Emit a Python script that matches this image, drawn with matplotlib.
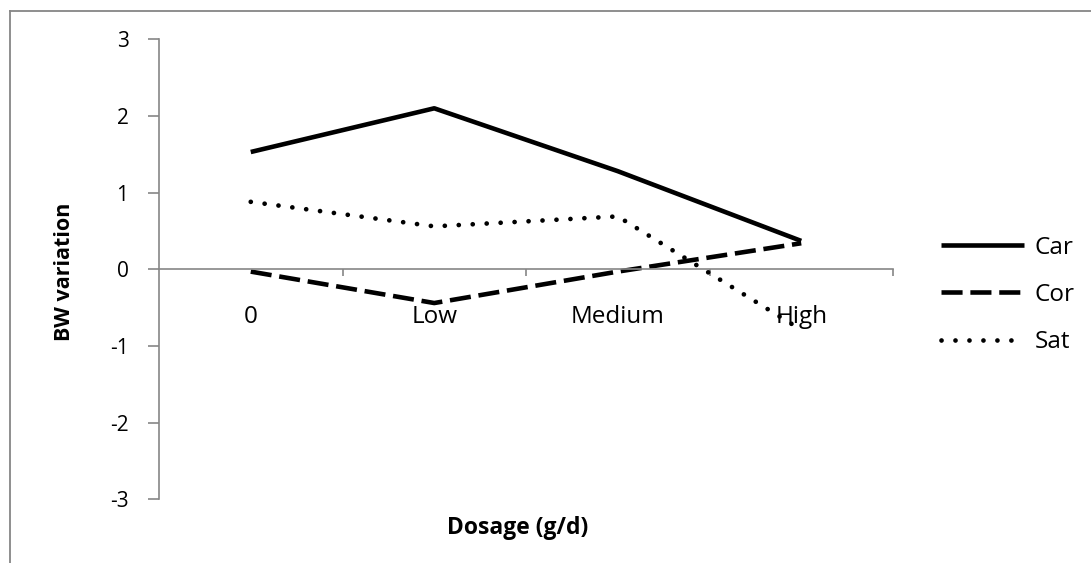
import matplotlib
matplotlib.use("Agg")
import matplotlib.pyplot as plt
from matplotlib.lines import Line2D

plt.rcParams['font.family'] = ['Open Sans', 'DejaVu Sans']

categories = ["0", "Low", "Medium", "High"]
car = [1.53, 2.10, 1.28, 0.37]
cor = [-0.03, -0.44, -0.03, 0.34]
sat = [0.88, 0.56, 0.69, -0.79]
series_names = ["Car", "Cor", "Sat"]
y_ticks = [-3, -2, -1, 0, 1, 2, 3]

W, H = 1091, 563
fig = plt.figure(figsize=(W / 100, H / 100), dpi=100)
fig.patch.set_facecolor("white")

# outer chart border (left and top visible)
grey = "#868686"
fig.add_artist(Line2D([10 / W, 10 / W], [0, 1 - 11 / H], color=grey, lw=1.3,
                      transform=fig.transFigure))
fig.add_artist(Line2D([10 / W, 1], [1 - 11 / H, 1 - 11 / H], color=grey, lw=1.3,
                      transform=fig.transFigure))

left, right = 159, 893
top, bottom = 39.3, 499.3
ax = fig.add_axes([left / W, 1 - bottom / H, (right - left) / W, (bottom - top) / H])

x = list(range(len(categories)))
l1, = ax.plot(x, car, color="black", lw=3.3, solid_capstyle="butt", label="Car")
l2, = ax.plot(x, cor, color="black", lw=3.3, dashes=(4.6, 1.7), dash_capstyle="butt", label="Cor")
l3, = ax.plot(x, sat, color="black", lw=3.4, dashes=(0.01, 2.95), dash_capstyle="round", label="Sat")

ax.set_xlim(-0.5, len(categories) - 0.5)
ax.set_ylim(-3, 3)

for s in ["top", "right"]:
    ax.spines[s].set_visible(False)
ax.spines["left"].set_color(grey)
ax.spines["left"].set_linewidth(1.2)
ax.spines["bottom"].set_position(("data", 0))
ax.spines["bottom"].set_color(grey)
ax.spines["bottom"].set_linewidth(1.2)

ax.set_yticks(y_ticks)
ax.set_yticklabels([str(v) for v in y_ticks])
ax.tick_params(axis="y", direction="out", length=8, width=1.2, color=grey,
               labelsize=15, pad=14, labelcolor="black")

ax.set_xticks(x)
ax.set_xticklabels(categories)
ax.tick_params(axis="x", which="major", length=0, pad=25.5, labelsize=17.5, labelcolor="black")
ax.set_xticks([i + 0.5 for i in x], minor=True)
ax.tick_params(axis="x", which="minor", direction="out", length=5, width=1.2, color=grey)

fig.text(65 / W, 1 - 272 / H, "BW variation", rotation=90, ha="center", va="center",
         fontsize=15.5, fontweight="bold")
fig.text(518 / W, 1 - 528 / H, "Dosage (g/d)", ha="center", va="center",
         fontsize=16.5, fontweight="bold")

fig.legend(handles=[l1, l2, l3], labels=series_names, loc="center left",
           bbox_to_anchor=(941 / W, 1 - 295 / H), frameon=False, fontsize=17.5,
           handlelength=3.4, handletextpad=0.45, labelspacing=0.95, borderpad=0,
           borderaxespad=0)

fig.savefig("out.png", dpi=100, facecolor="white")
